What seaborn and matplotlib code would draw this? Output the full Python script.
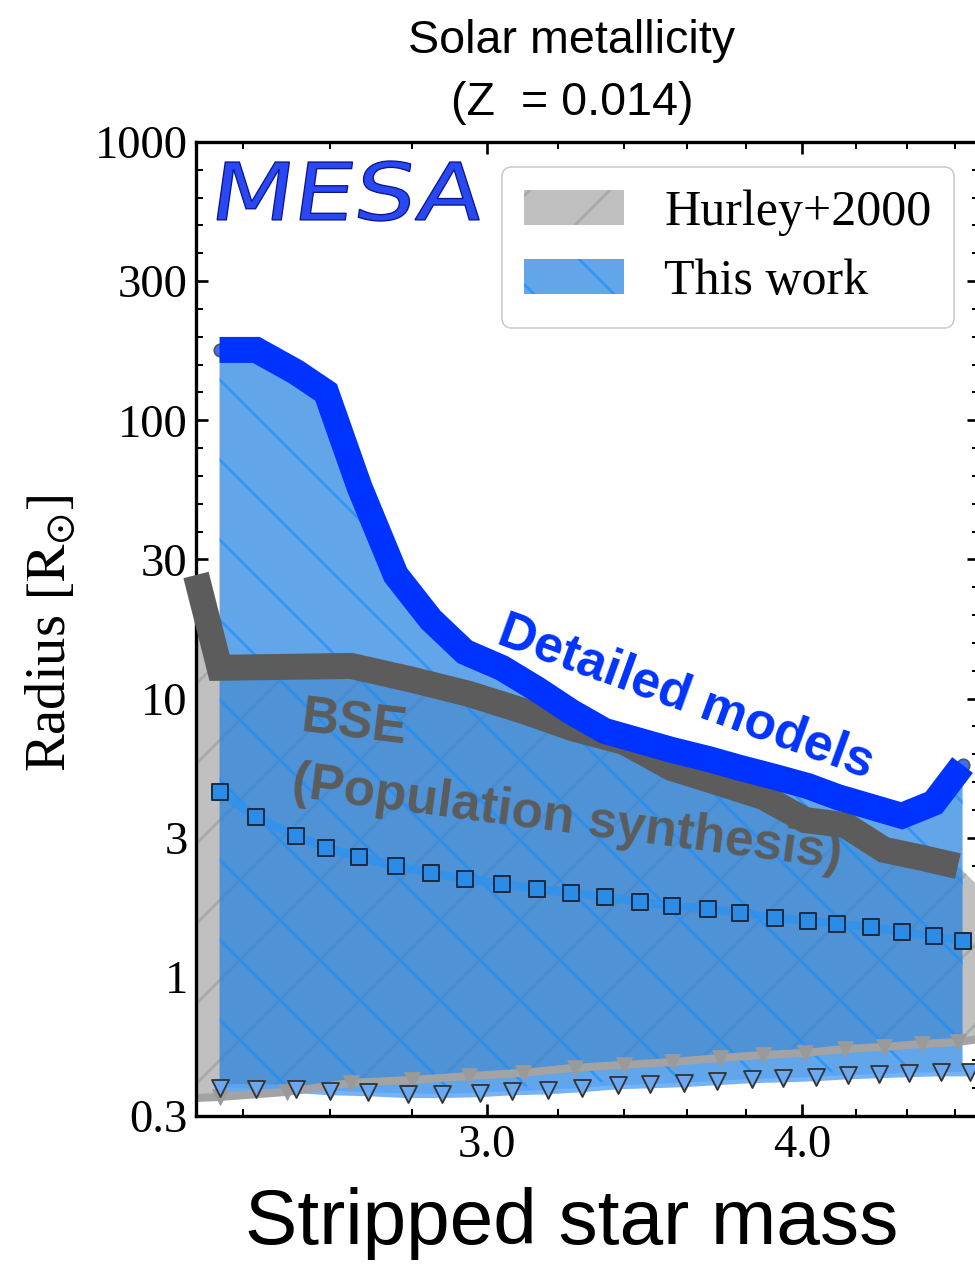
import numpy as np
import matplotlib
matplotlib.use("Agg")
import matplotlib.pyplot as plt
import seaborn as sns
from matplotlib.ticker import FixedLocator, FixedFormatter, NullFormatter
from matplotlib.textpath import TextPath
from matplotlib.patches import PathPatch
from matplotlib.font_manager import FontProperties
from matplotlib.transforms import Affine2D, IdentityTransform

# ---------------- data ----------------
# detailed MESA models ("This work")
mass_models = [2.35, 2.43, 2.52, 2.59, 2.67, 2.76, 2.85, 2.94, 3.04, 3.14, 3.24, 3.34,
               3.45, 3.55, 3.67, 3.78, 3.90, 4.02, 4.13, 4.26, 4.38, 4.51, 4.63]
radius_max = [179, 179, 149, 126, 57.6, 27.8, 19.2, 14.7, 12.9, 10.8, 8.95, 7.65,
              7.04, 6.54, 6.07, 5.63, 5.23, 4.85, 4.43, 4.08, 3.79, 4.22, 5.77]
radius_squares = [4.62, 3.75, 3.21, 2.91, 2.70, 2.50, 2.36, 2.25, 2.16, 2.07, 2.00, 1.94,
                  1.86, 1.80, 1.75, 1.70, 1.63, 1.59, 1.55, 1.51, 1.45, 1.40, 1.35]
mass_tri = [2.35, 2.43, 2.52, 2.60, 2.69, 2.79, 2.88, 2.98, 3.07, 3.17, 3.27, 3.38,
            3.48, 3.59, 3.70, 3.82, 3.93, 4.05, 4.17, 4.29, 4.41, 4.54, 4.66]
radius_tri = [0.399, 0.396, 0.396, 0.389, 0.386, 0.380, 0.380, 0.383, 0.389, 0.392, 0.399, 0.409,
              0.412, 0.416, 0.423, 0.430, 0.433, 0.437, 0.444, 0.448, 0.452, 0.455, 0.455]

# Hurley+2000 / BSE
hurley_mass = [2.30, 2.35, 2.50, 2.65, 2.80, 2.95, 3.10, 3.25, 3.40, 3.55, 3.71, 3.86,
               4.01, 4.16, 4.31, 4.46, 4.61, 4.76]
hurley_upper = [27.8, 12.9, 13.0, 13.1, 11.7, 10.4, 9.03, 7.78, 6.98, 5.63, 4.97, 4.43,
                3.66, 3.51, 2.86, 2.68, 2.50, 1.89]
hurley_lower = [0.367, 0.370, 0.386, 0.416, 0.426, 0.440, 0.452, 0.471, 0.483, 0.494, 0.511, 0.524,
                0.533, 0.551, 0.560, 0.574, 0.583, 0.608]

y_ticks = [0.3162, 1, 3.162, 10, 31.62, 100, 316.2, 1000]
y_ticklabels = ["0.3", "1", "3", "10", "30", "100", "300", "1000"]
x_ticks = [3.0, 4.0]
x_ticklabels = ["3.0", "4.0"]
x_minor = [2.4, 2.6, 2.8, 3.2, 3.4, 3.6, 3.8, 4.2, 4.4, 4.6]

# ---------------- style ----------------
sns.set_theme(style="ticks")
plt.rcParams.update({
    "font.family": ["Liberation Serif", "DejaVu Sans"],
    "mathtext.fontset": "stix",
    "hatch.linewidth": 0.8,
    "axes.linewidth": 1.0,
    "axes.edgecolor": "black",
    "axes.labelcolor": "black",
    "text.color": "black",
    "xtick.direction": "in", "ytick.direction": "in",
    "xtick.top": True, "ytick.right": True,
    "xtick.major.size": 3.6, "ytick.major.size": 3.6,
    "xtick.minor.size": 2.0, "ytick.minor.size": 2.0,
    "xtick.major.width": 0.8, "ytick.major.width": 0.8,
    "xtick.minor.width": 0.6, "ytick.minor.width": 0.6,
    "xtick.color": "black", "ytick.color": "black",
    "xtick.labelcolor": "black", "ytick.labelcolor": "black",
    "axes.facecolor": "white",
})

W, H, DPI = 975, 1264, 240
fig = plt.figure(figsize=(W / DPI, H / DPI), dpi=DPI)
ax = fig.add_axes([196 / W, (H - 1116) / H, (979 - 196) / W, 974 / H])
ax.set_xscale("log")
ax.set_yscale("log")
ax.set_xlim(2.3, 4.7)
ax.set_ylim(y_ticks[0], y_ticks[-1])

# Hurley+2000 shaded region
gray_fill = ax.fill_between(hurley_mass, hurley_lower, hurley_upper, facecolor="#c0c0c0",
                            edgecolor="#a9a9a9", hatch="/", linewidth=0, zorder=1,
                            label="Hurley+2000")

# This work shaded region
lower_interp = 10 ** np.interp(np.log10(mass_models), np.log10(mass_tri), np.log10(radius_tri))
blue_fill = ax.fill_between(mass_models, lower_interp, radius_max, facecolor="#1f7fe0",
                            edgecolor="#1990ff", hatch="\\", linewidth=0, alpha=0.7,
                            zorder=1.5, label="This work")

# squares series
sns.lineplot(x=mass_models, y=radius_squares, ax=ax, color="#3192ec", lw=2.6, alpha=0.9,
             sort=False, estimator=None, zorder=2, legend=False)
sns.scatterplot(x=mass_models, y=radius_squares, ax=ax, marker="s", s=22, color="#2a8ce6",
                edgecolor="#1c2c44", linewidth=0.6, zorder=2.2, legend=False)

# Hurley lower line with gray triangles
sns.lineplot(x=hurley_mass, y=hurley_lower, ax=ax, color="#a3a3a3", lw=2.4,
             sort=False, estimator=None, zorder=2.1, legend=False)
sns.scatterplot(x=hurley_mass[1:-1], y=hurley_lower[1:-1], ax=ax, marker="v", s=22,
                color="#9a9a9a", edgecolor="#9a9a9a", linewidth=0.3, zorder=2.15, legend=False)

# triangles series
sns.lineplot(x=mass_tri, y=radius_tri, ax=ax, color="#5ea6f5", lw=2.6, alpha=0.85,
             sort=False, estimator=None, zorder=2.0, legend=False)
sns.scatterplot(x=mass_tri, y=radius_tri, ax=ax, marker="v", s=26, color="#6aa9f2",
                edgecolor="#333333", linewidth=0.55, zorder=2.3, legend=False)

# BSE thick line
sns.lineplot(x=hurley_mass[:-1], y=hurley_upper[:-1], ax=ax, color="#5c5c5c", lw=7.8,
             sort=False, estimator=None, zorder=3, legend=False, clip_on=False,
             solid_capstyle="butt", solid_joinstyle="miter")

# Detailed models thick line
sns.scatterplot(x=mass_models, y=radius_max, ax=ax, marker="o", s=14, color="#3d6ff5",
                edgecolor="#555555", linewidth=0.5, zorder=3.9, legend=False)
sns.lineplot(x=mass_models, y=radius_max, ax=ax, color="#0033ff", lw=7.8,
             sort=False, estimator=None, zorder=4, legend=False,
             solid_capstyle="butt", solid_joinstyle="miter")

# ticks
ax.yaxis.set_major_locator(FixedLocator(y_ticks))
ax.yaxis.set_major_formatter(FixedFormatter(y_ticklabels))
ax.yaxis.set_minor_locator(FixedLocator([10 ** (k / 10) for k in range(-4, 30) if k % 5]))
ax.yaxis.set_minor_formatter(NullFormatter())
ax.xaxis.set_major_locator(FixedLocator(x_ticks))
ax.xaxis.set_major_formatter(FixedFormatter(x_ticklabels))
ax.xaxis.set_minor_locator(FixedLocator(x_minor))
ax.xaxis.set_minor_formatter(NullFormatter())
ax.tick_params(axis="both", which="major", labelsize=14, pad=2.5, labelcolor="black")
for lab in ax.get_xticklabels() + ax.get_yticklabels():
    lab.set_fontfamily("Liberation Serif")
for s in ax.spines.values():
    s.set_color("black")
    s.set_linewidth(1.0)

# labels
ax.set_ylabel(r"Radius $[\mathrm{R}_{\odot}]$", fontsize=17, family="Liberation Serif",
              color="black")
ax.yaxis.set_label_coords(-0.152, 0.496)
ax.set_xlabel("Stripped star mass", fontsize=23.5, family="Liberation Sans", va="baseline",
              color="black")
ax.xaxis.set_label_coords((572 - 196) / 783, (1116 - 1244) / 974)
ax.set_title("Solar metallicity\n(Z  = 0.014)", fontsize=14, family="Liberation Sans",
             x=(572 - 196) / 783, pad=8, linespacing=1.55, color="black")

# annotations
def fpos(px, py):
    return px / W, 1 - py / H

fig.text(*fpos(495, 643), "Detailed models", rotation=-20, rotation_mode="anchor",
         ha="left", va="baseline", color="#0033ff", fontsize=15.5, fontweight="bold",
         family="Liberation Sans")
fig.text(*fpos(300, 732), "BSE", rotation=-7, rotation_mode="anchor",
         ha="left", va="baseline", color="#5c5c5c", fontsize=15.5, fontweight="bold",
         family="Liberation Sans")
fig.text(*fpos(290, 796), "(Population synthesis)", rotation=-7.5, rotation_mode="anchor",
         ha="left", va="baseline", color="#5c5c5c", fontsize=15.5, fontweight="bold",
         family="Liberation Sans")

# MESA logo as stretched text path
tp = TextPath((0, 0), "MESA", size=100, prop=FontProperties(family="DejaVu Sans"))
ext = tp.get_extents()
tr = (Affine2D().translate(-ext.x0, -ext.y0)
      .scale(262 / ext.width, 60 / ext.height)
      .skew_deg(8, 0)
      .translate(217, H - 221))
logo = PathPatch(tr.transform_path(tp), transform=IdentityTransform(),
                 facecolor="#2a48f2", edgecolor="#0a1690", lw=0.4)
fig.add_artist(logo)

# legend
leg = ax.legend(handles=[gray_fill, blue_fill], labels=["Hurley+2000", "This work"],
                loc="upper right", prop=FontProperties(family="Liberation Serif", size=15),
                frameon=True, fancybox=True, framealpha=1, edgecolor="#cccccc",
                borderpad=0.45, handlelength=2.0, handleheight=0.7, handletextpad=0.8,
                labelspacing=0.45, borderaxespad=0.5)
leg.get_frame().set_linewidth(0.5)
for t in leg.get_texts():
    t.set_color("black")
leg.set_zorder(6)

fig.savefig("out.png", dpi=DPI)
